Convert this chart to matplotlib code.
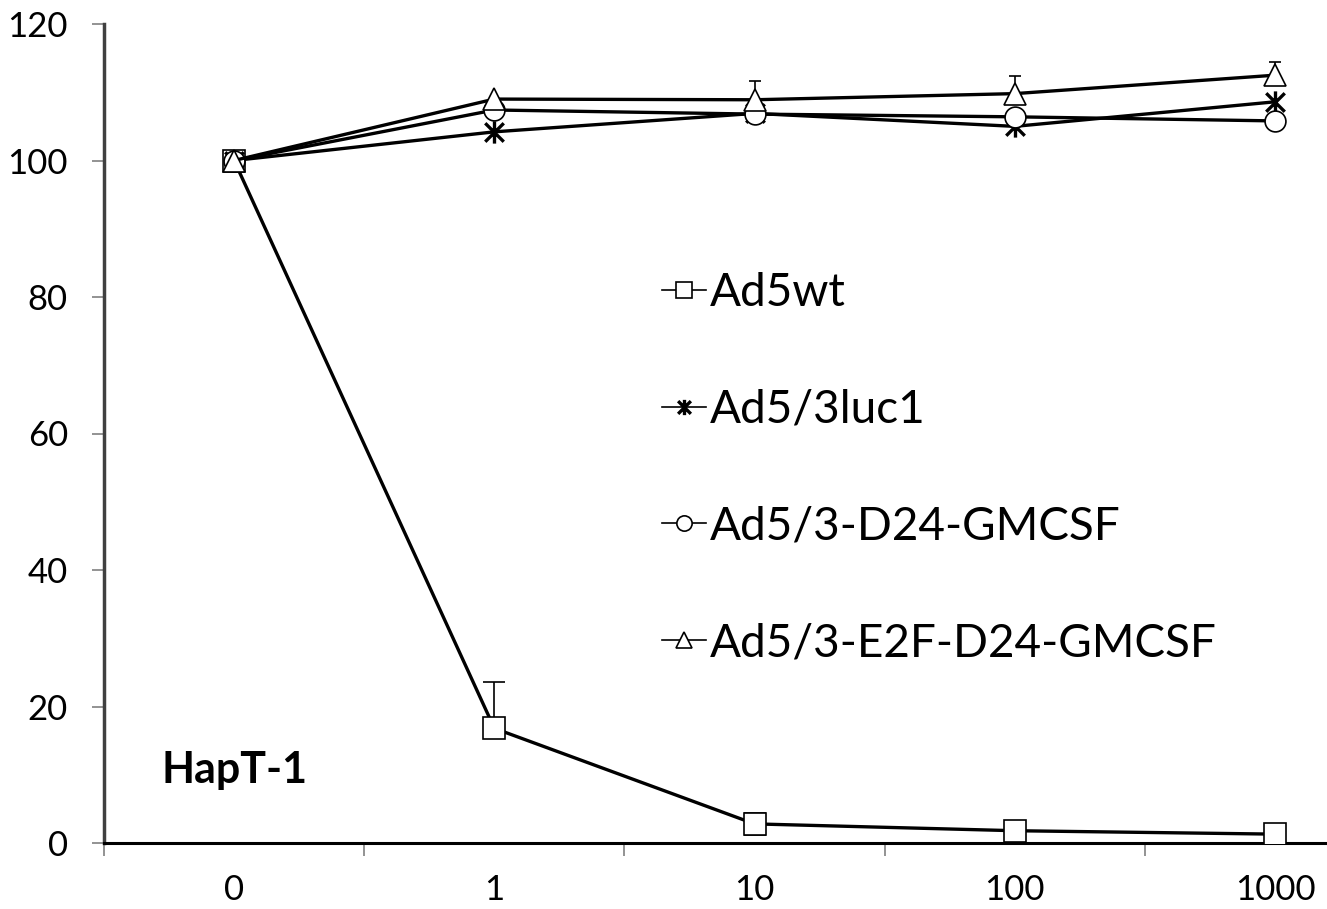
import numpy as np
import matplotlib
matplotlib.use("Agg")
import matplotlib.pyplot as plt
from matplotlib.path import Path

# Data
categories = ["0", "1", "10", "100", "1000"]
ad5wt = [100, 16.8, 2.8, 1.8, 1.3]
ad5wt_err_up = [0, 6.8, 1.6, 0, 0]
ad5wt_err_lo = [0, 0, 1.6, 0, 0]
luc1 = [100, 104.2, 106.9, 105.0, 108.6]
d24 = [100, 107.4, 106.8, 106.4, 105.8]
e2f = [100, 109.0, 108.9, 109.8, 112.5]
e2f_err_up = [0, 0, 2.8, 2.6, 2.0]
labels = ["Ad5wt", "Ad5/3luc1", "Ad5/3-D24-GMCSF", "Ad5/3-E2F-D24-GMCSF"]

plt.rcParams['font.family'] = ['Lato', 'DejaVu Sans']

# asterisk marker like the Excel star
star = Path([(-1, -1), (1, 1), (-1, 1), (1, -1), (0, -1.2), (0, 1.2)],
            [Path.MOVETO, Path.LINETO, Path.MOVETO, Path.LINETO, Path.MOVETO, Path.LINETO])

fig = plt.figure(figsize=(13.27, 9.09), dpi=100)
ax = fig.add_axes([104 / 1327, 66 / 909, 1 - 104 / 1327, 819 / 909])

x = np.arange(len(categories))
lw = 2.4

ax.errorbar(x, ad5wt, yerr=[ad5wt_err_lo, ad5wt_err_up], fmt='none', ecolor='black',
            elinewidth=1.2, capsize=8, capthick=1.2, zorder=2)
ax.errorbar(x, e2f, yerr=[np.zeros(5), e2f_err_up], fmt='none', ecolor='black',
            elinewidth=1.2, capsize=4, capthick=1.2, zorder=2)

h1, = ax.plot(x, ad5wt, color='black', lw=lw, marker='s', ms=16, mfc='white',
              mec='black', mew=1.2, zorder=3)
h2, = ax.plot(x, luc1, color='black', lw=lw, marker=star, ms=16, mfc='none',
              mec='black', mew=2.4, zorder=3)
h3, = ax.plot(x, d24, color='black', lw=lw, marker='o', ms=15, mfc='white',
              mec='black', mew=1.2, zorder=3)
h4, = ax.plot(x, e2f, color='black', lw=lw, marker='^', ms=16, mfc='white',
              mec='black', mew=1.2, zorder=4)

ax.set_yticks(np.arange(0, 121, 20))
ax.tick_params(axis='y', direction='out', length=9, width=1.2, color='#808080',
               labelsize=25, pad=17)
ax.set_xticks(x)
ax.set_xticklabels(categories)
ax.set_xticks(np.arange(-0.5, 4.0, 1), minor=True)
ax.tick_params(axis='x', which='major', length=0, labelsize=25, pad=22)
ax.tick_params(axis='x', which='minor', direction='out', length=9, width=1.2,
               color='#808080')

ax.set_xlim(-0.5, (1327 - 233) / 260.5)
ax.set_ylim(0, 120)

for s in ['top', 'right']:
    ax.spines[s].set_visible(False)
ax.spines['left'].set_linewidth(2.5)
ax.spines['left'].set_color('#404040')
ax.spines['bottom'].set_linewidth(2.2)
ax.spines['bottom'].set_color('black')

ax.text(-0.28, 10.7, "HapT-1", fontsize=31, fontweight='bold', ha='left', va='center')

leg = ax.legend([h1, h2, h3, h4], labels, loc='upper left',
                bbox_to_anchor=((662 - 104) / 1223, (843 - 272) / 819),
                frameon=False, fontsize=33, handlelength=0.95, handletextpad=0.1,
                labelspacing=1.63, borderaxespad=0, borderpad=0)
for line in leg.get_lines():
    line.set_markersize(11)
    line.set_linewidth(1.2)

fig.savefig("out.png", dpi=100, facecolor='white')
